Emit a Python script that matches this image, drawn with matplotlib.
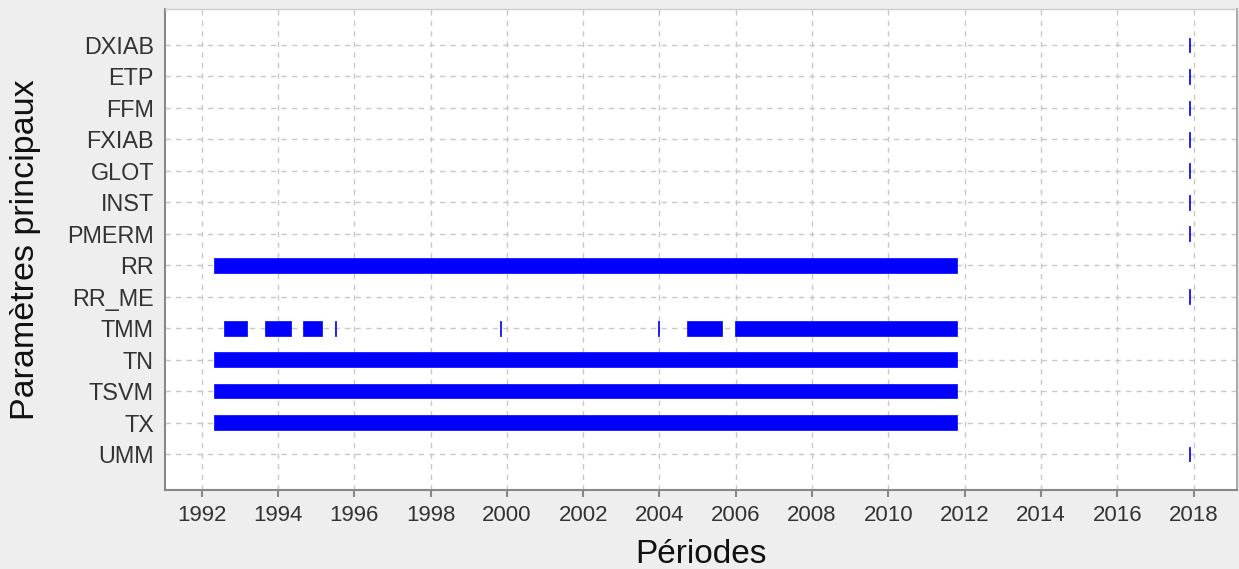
import matplotlib
matplotlib.use("Agg")
import matplotlib.pyplot as plt

plt.rcParams['font.family'] = ['Liberation Sans', 'DejaVu Sans']

# Parameters (top to bottom)
params = ["DXIAB", "ETP", "FFM", "FXIAB", "GLOT", "INST", "PMERM",
          "RR", "RR_ME", "TMM", "TN", "TSVM", "TX", "UMM"]

# Availability periods (decimal years: start, end)
late_single = [(2017.88, 2017.91)]
rr_periods = [(1992.32, 2011.80)]
tmm_periods = [(1992.59, 1993.19), (1993.66, 1994.34), (1994.66, 1995.15),
               (1995.49, 1995.51), (1999.82, 1999.84), (2003.96, 2003.98),
               (2004.73, 2005.64), (2005.98, 2011.80)]
tn_periods = [(1992.32, 2011.80)]
tsvm_periods = [(1992.32, 2011.80)]
tx_periods = [(1992.32, 2011.80)]

periods_by_param = [late_single, late_single, late_single, late_single,
                    late_single, late_single, late_single, rr_periods,
                    late_single, tmm_periods, tn_periods, tsvm_periods,
                    tx_periods, late_single]

year_ticks = list(range(1992, 2019, 2))

fig = plt.figure(figsize=(12.39, 5.69), dpi=100, facecolor="#eeeeee")
ax = fig.add_axes([0.1332, 0.1388, 0.8652, 0.8454])
ax.set_facecolor("white")

for i, per in enumerate(periods_by_param):
    ax.broken_barh([(s, e - s) for s, e in per], (i - 0.235, 0.47),
                   facecolors="#0000ff", edgecolor="#0000ff", linewidth=0.5)

ax.set_yticks(range(len(params)))
ax.set_yticklabels(params)
ax.set_ylim(len(params) - 1 + 1.144, -1.144)
ax.set_xlim(1991.04, 2019.14)
ax.set_xticks(year_ticks)

ax.grid(True, color="#c8c8c8", linestyle=(0, (3.8, 3.8)), linewidth=1.0)
ax.set_axisbelow(True)

for sp in ax.spines.values():
    sp.set_color("#888888")
    sp.set_linewidth(1.5)
ax.spines["right"].set_color("#aaaaaa")
ax.spines["top"].set_color("#cccccc")
ax.spines["top"].set_linewidth(1.0)

ax.tick_params(axis="y", length=0, pad=8, labelsize=16.8, labelcolor="#333333")
ax.tick_params(axis="x", length=5, width=1.5, color="#888888", pad=6,
               labelsize=16, labelcolor="#333333")

ax.set_xlabel("Périodes", fontsize=24, color="#111111", va="center")
ax.xaxis.set_label_coords(0.5, -0.135)
ax.set_ylabel("Paramètres principaux", fontsize=24.5, color="#111111", va="center")
ax.yaxis.set_label_coords(-0.1306, 0.5)

fig.savefig("out.png", dpi=100, facecolor=fig.get_facecolor())
